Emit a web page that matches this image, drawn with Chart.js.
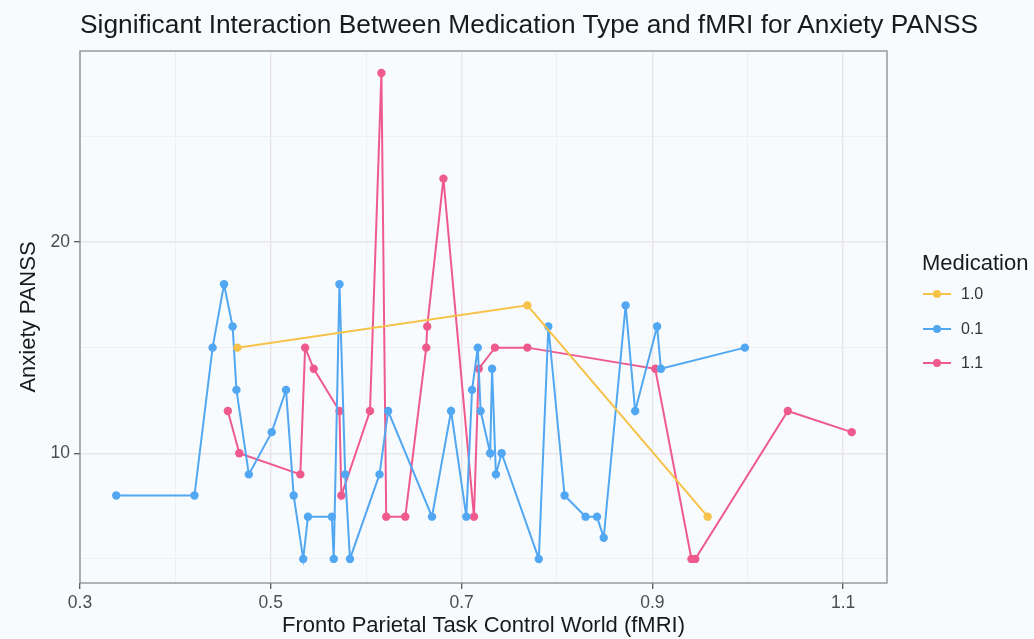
<!DOCTYPE html>
<html lang="en">
<head>
    <meta charset="UTF-8">
    <title>Medication Type and fMRI - Anxiety PANSS</title>
    <script src="https://cdn.jsdelivr.net/npm/chart.js"></script>
    <style>
        body { margin: 0; background: #f8fbfd; font-family: "Liberation Sans", Arial, sans-serif; }
        .wrap { position: relative; width: 1034px; height: 639px; }
        .title { position: absolute; left: 0; top: 9px; width: 1058px; text-align: center;
                 font-size: 26.3px; line-height: 30px; color: #1a1a1a; white-space: nowrap; }
        .legend { position: absolute; left: 922px; top: 249px; color: #1a1a1a; }
        .legend h4 { margin: 0; font-size: 22px; line-height: 28px; font-weight: normal; }
        .legend .item { height: 34.5px; display: flex; align-items: center; font-size: 16px; color: #333; }
        .legend .mark { position: relative; width: 30px; height: 10px; margin-right: 9px; }
        .legend .mark .ln { position: absolute; left: 1px; right: 1px; top: 4px; height: 2px; }
        .legend .mark .dot { position: absolute; left: 11px; top: 1px; width: 8px; height: 8px; border-radius: 50%; }
    </style>
</head>
<body>
    <div class="wrap">
        <canvas id="anxietyChart" width="1034" height="639"></canvas>
        <div class="title">Significant Interaction Between Medication Type and fMRI for Anxiety PANSS</div>
        <div class="legend" id="legend"><h4>Medication</h4></div>
    </div>

    <script>
        // Medication groups
        const groups = ["1.0", "0.1", "1.1"];
        const colors = ["#f6c24a", "#52a7f2", "#ef5a8d"];

        // fMRI (x) and Anxiety PANSS (y) per group
        const yellowX = [0.465, 0.769, 0.958];
        const yellowY = [15, 17, 7];

        const blueX = [0.338, 0.420, 0.439, 0.451, 0.460, 0.464, 0.477, 0.501, 0.516, 0.524,
                       0.534, 0.539, 0.564, 0.566, 0.572, 0.578, 0.583, 0.614, 0.623, 0.669,
                       0.689, 0.705, 0.711, 0.717, 0.720, 0.730, 0.732, 0.736, 0.742, 0.781,
                       0.791, 0.808, 0.830, 0.842, 0.849, 0.872, 0.882, 0.905, 0.909, 0.997];
        const blueY = [8, 8, 15, 18, 16, 13, 9, 11, 13, 8,
                       5, 7, 7, 5, 18, 9, 5, 9, 12, 7,
                       12, 7, 13, 15, 12, 10, 14, 9, 10, 5,
                       16, 8, 7, 7, 6, 17, 12, 16, 14, 15];

        const pinkX = [0.455, 0.467, 0.531, 0.536, 0.545, 0.572, 0.574, 0.604, 0.616, 0.621,
                       0.641, 0.663, 0.664, 0.681, 0.713, 0.718, 0.735, 0.769, 0.903, 0.941,
                       0.945, 1.042, 1.109];
        const pinkY = [12, 10, 9, 15, 14, 12, 8, 12, 28, 7,
                       7, 15, 16, 23, 7, 14, 15, 15, 14, 5,
                       5, 12, 11];

        // axis ticks
        const xGrid = [0.3, 0.4, 0.5, 0.6, 0.7, 0.8, 0.9, 1.0, 1.1];
        const xLabels = ["0.3", "0.5", "0.7", "0.9", "1.1"];
        const yGrid = [5, 10, 15, 20, 25];
        const yLabels = ["10", "20"];

        function toPoints(xs, ys) {
            return xs.map((x, i) => ({ x: x, y: ys[i] }));
        }

        const seriesX = [yellowX, blueX, pinkX];
        const seriesY = [yellowY, blueY, pinkY];

        const datasets = groups.map((g, i) => ({
            label: g,
            data: toPoints(seriesX[i], seriesY[i]),
            showLine: true,
            borderColor: colors[i],
            backgroundColor: colors[i],
            borderWidth: 2,
            pointRadius: 4.2,
            pointHoverRadius: 4.2,
            pointBorderWidth: 0
        }));

        // legend
        const legend = document.getElementById("legend");
        groups.forEach((g, i) => {
            let row = document.createElement("div");
            row.className = "item";
            row.innerHTML = '<span class="mark"><span class="ln" style="background:' + colors[i] +
                '"></span><span class="dot" style="background:' + colors[i] + '"></span></span>' + g;
            legend.appendChild(row);
        });

        const panelBorder = {
            id: "panelBorder",
            afterDraw(chart) {
                const a = chart.chartArea;
                const ctx = chart.ctx;
                ctx.save();
                ctx.strokeStyle = "#8a8a8a";
                ctx.lineWidth = 1.3;
                ctx.strokeRect(a.left, a.top, a.right - a.left, a.bottom - a.top);
                ctx.restore();
            }
        };

        const isMajorX = v => xLabels.includes(v.toFixed(1));
        const isMajorY = v => yLabels.includes(String(v));
        const tickFont = { family: "Liberation Sans", size: 17.5 };
        const titleFont = { family: "Liberation Sans", size: 22, lineHeight: 1.2 };

        new Chart(document.getElementById("anxietyChart"), {
            type: "scatter",
            data: { datasets: datasets },
            plugins: [panelBorder],
            options: {
                responsive: false,
                animation: false,
                devicePixelRatio: 1,
                layout: { padding: { left: 0, right: 147, top: 51, bottom: 0 } },
                plugins: {
                    legend: { display: false },
                    tooltip: { enabled: false }
                },
                scales: {
                    x: {
                        type: "linear",
                        min: 0.3,
                        max: 1.146,
                        afterBuildTicks: s => { s.ticks = xGrid.map(v => ({ value: v })); },
                        afterFit: s => { s.height = 56; },
                        border: { display: false },
                        grid: {
                            color: c => isMajorX(c.tick.value) ? "#e9e5ea" : "#efedf0",
                            lineWidth: c => isMajorX(c.tick.value) ? 1.4 : 0.9,
                            tickColor: c => isMajorX(c.tick.value) ? "#555" : "rgba(0,0,0,0)",
                            tickLength: 6,
                            tickWidth: 1.3
                        },
                        ticks: {
                            autoSkip: false,
                            maxRotation: 0,
                            padding: 4,
                            color: "#4d4d4d",
                            font: tickFont,
                            callback: v => isMajorX(v) ? v.toFixed(1) : ""
                        },
                        title: {
                            display: true,
                            text: "Fronto Parietal Task Control World (fMRI)",
                            color: "#1a1a1a",
                            font: titleFont,
                            padding: { top: 0, bottom: 0 }
                        }
                    },
                    y: {
                        type: "linear",
                        min: 3.86,
                        max: 29.04,
                        afterBuildTicks: s => { s.ticks = yGrid.map(v => ({ value: v })); },
                        afterFit: s => { s.width = 80; },
                        border: { display: false },
                        grid: {
                            color: c => isMajorY(c.tick.value) ? "#e9e5ea" : "#efedf0",
                            lineWidth: c => isMajorY(c.tick.value) ? 1.4 : 0.9,
                            tickColor: c => isMajorY(c.tick.value) ? "#555" : "rgba(0,0,0,0)",
                            tickLength: 6,
                            tickWidth: 1.3
                        },
                        ticks: {
                            autoSkip: false,
                            padding: 4,
                            color: "#4d4d4d",
                            font: tickFont,
                            callback: v => isMajorY(v) ? String(v) : ""
                        },
                        title: {
                            display: true,
                            text: "Anxiety PANSS",
                            color: "#1a1a1a",
                            font: titleFont,
                            padding: { top: 16, bottom: 0 }
                        }
                    }
                }
            }
        });
    </script>
</body>
</html>
